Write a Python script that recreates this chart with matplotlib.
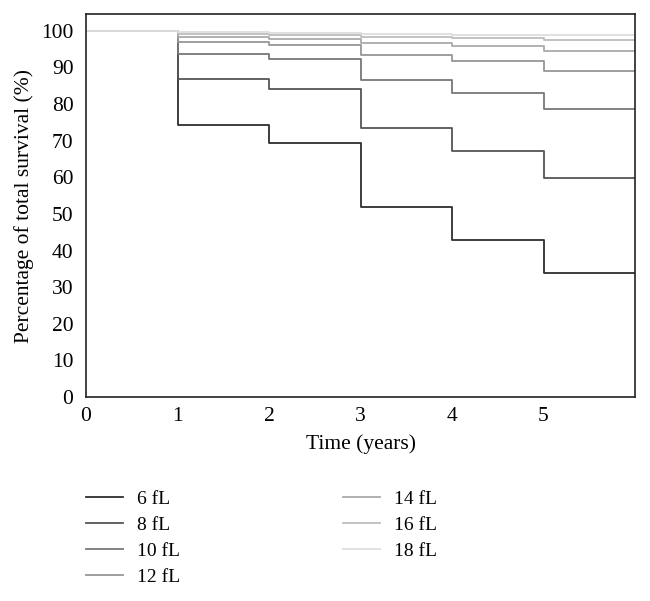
import numpy as np
import matplotlib
matplotlib.use('Agg')
import matplotlib.pyplot as plt

plt.rcParams['font.family'] = ['Liberation Serif', 'DejaVu Serif']

years = [0, 1, 2, 3, 4, 5, 6]
labels = ['6 fL', '8 fL', '10 fL', '12 fL', '14 fL', '16 fL', '18 fL']
surv_6 = [100, 74.3, 69.5, 52.0, 42.9, 33.8]
surv_8 = [100, 86.9, 84.1, 73.6, 67.3, 59.8]
surv_10 = [100, 93.6, 92.2, 86.6, 83.0, 78.6]
surv_12 = [100, 97.0, 96.1, 93.4, 91.7, 89.1]
surv_14 = [100, 98.4, 97.9, 96.7, 95.9, 94.6]
surv_16 = [100, 99.2, 98.9, 98.4, 98.1, 97.4]
surv_18 = [100, 99.6, 99.4, 99.2, 99.0, 98.8]
colors = ['#2e2e2e', '#555555', '#777777', '#969696', '#aaaaaa', '#bdbdbd', '#dddddd']

fig = plt.figure(figsize=(6.5, 6.01), dpi=100)
ax = fig.add_axes([0.1323, 0.3394, 0.8447, 0.6373])

series = [surv_6, surv_8, surv_10, surv_12, surv_14, surv_16, surv_18]
for s, lab, c in zip(series, labels, colors):
    y = np.append(s, s[-1])  # hold last value to the end of the axis
    ax.plot(years, y, drawstyle='steps-post', color=c, lw=1.3, label=lab)

ax.set_xlim(0, 6)
ax.set_ylim(0, 104.6)
ax.set_xticks(range(0, 6))
ax.set_yticks(range(0, 101, 10))
ax.tick_params(length=0, labelsize=15.5)
ax.tick_params(axis='y', pad=9)
ax.tick_params(axis='x', pad=7)
for sp in ax.spines.values():
    sp.set_linewidth(1.2)
    sp.set_color('#222222')
ax.set_xlabel('Time (years)', fontsize=15.5, labelpad=6)
ax.set_ylabel('Percentage of total survival (%)', fontsize=15.5, labelpad=5)

fig.legend(loc='upper left', bbox_to_anchor=(0.1325, 0.184), ncol=2, frameon=False,
           fontsize=14, handlelength=1.9, handletextpad=0.72, columnspacing=8.35,
           labelspacing=0.43, borderpad=0, borderaxespad=0)

fig.savefig('out.png', dpi=100)
